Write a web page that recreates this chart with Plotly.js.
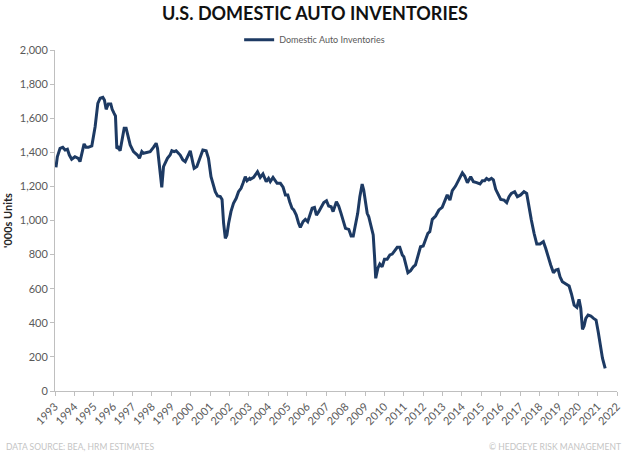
<!DOCTYPE html>
<html>
<head>
<meta charset="utf-8">
<script src="https://cdn.plot.ly/plotly-3.0.1.min.js"></script>
<style>html,body{margin:0;padding:0;background:#fff;}#chart{width:630px;height:457px;}</style>
</head>
<body>
<div id="chart"></div>
<script>
// Decimal year of each reading
var years = [
1993.05,1993.12,1993.26,1993.40,1993.52,1993.64,1993.74,1993.86,1994.03,1994.20,1994.29,1994.38,1994.50,1994.60,1994.72,1994.90,
1995.07,1995.21,1995.33,1995.47,1995.55,1995.64,1995.75,1995.88,1995.95,1996.05,1996.12,1996.19,1996.27,1996.36,1996.45,1996.57,
1996.67,1996.79,1996.88,1997.05,1997.25,1997.36,1997.48,1997.56,1997.74,1997.91,1998.08,1998.22,1998.29,1998.39,1998.51,1998.60,
1998.68,1998.80,1998.94,1999.03,1999.15,1999.25,1999.46,1999.60,1999.72,1999.84,1999.98,2000.12,2000.18,2000.32,2000.46,2000.63,
2000.80,2000.92,2001.05,2001.15,2001.27,2001.39,2001.53,2001.62,2001.70,2001.79,2001.87,2001.96,2002.08,2002.21,2002.35,2002.47,
2002.60,2002.70,2002.82,2002.91,2003.04,2003.08,2003.25,2003.45,2003.59,2003.73,2003.90,2004.02,2004.11,2004.25,2004.37,2004.46,
2004.63,2004.77,2004.89,2005.01,2005.11,2005.23,2005.32,2005.45,2005.57,2005.66,2005.80,2005.92,2006.04,2006.14,2006.27,2006.39,
2006.49,2006.61,2006.73,2006.87,2007.01,2007.12,2007.25,2007.35,2007.52,2007.64,2007.76,2007.90,2007.99,2008.16,2008.28,2008.39,
2008.50,2008.62,2008.73,2008.85,2008.93,2009.02,2009.11,2009.19,2009.28,2009.42,2009.49,2009.55,2009.66,2009.76,2009.88,2010.00,
2010.14,2010.28,2010.40,2010.52,2010.66,2010.79,2010.92,2011.00,2011.09,2011.21,2011.35,2011.49,2011.60,2011.72,2011.86,2012.00,
2012.12,2012.24,2012.34,2012.47,2012.64,2012.81,2012.98,2013.10,2013.24,2013.38,2013.50,2013.67,2013.84,2014.02,2014.14,2014.28,
2014.45,2014.59,2014.76,2014.93,2015.05,2015.17,2015.27,2015.39,2015.52,2015.62,2015.74,2015.86,2016.00,2016.17,2016.31,2016.43,
2016.55,2016.72,2016.86,2017.03,2017.20,2017.34,2017.46,2017.58,2017.72,2017.86,2018.03,2018.20,2018.32,2018.44,2018.58,2018.72,
2018.84,2018.96,2019.06,2019.18,2019.36,2019.53,2019.65,2019.79,2019.93,2020.04,2020.13,2020.22,2020.30,2020.39,2020.51,2020.65,
2020.79,2020.92,2021.03,2021.13,2021.25,2021.39
];
// Domestic auto inventories, '000s units
var inventories = [
1312,1374,1423,1429,1413,1418,1384,1359,1374,1365,1345,1384,1449,1429,1429,1437,
1550,1687,1717,1722,1707,1652,1683,1683,1652,1628,1613,1423,1429,1409,1462,1541,
1541,1472,1443,1404,1384,1365,1404,1394,1398,1404,1429,1453,1423,1316,1195,1316,
1335,1365,1384,1409,1404,1409,1384,1355,1345,1374,1409,1335,1306,1316,1365,1413,
1409,1365,1257,1222,1169,1144,1140,1124,984,896,915,984,1052,1101,1130,1169,
1189,1218,1257,1233,1247,1242,1253,1286,1253,1273,1228,1247,1228,1253,1233,1218,
1218,1195,1150,1150,1110,1072,1062,1032,984,960,993,1007,993,1032,1072,1077,
1032,1052,1081,1105,1116,1085,1081,1052,1110,1085,1042,984,954,948,909,909,
974,1042,1140,1214,1179,1101,1042,1022,979,915,788,661,720,745,729,772,
772,798,803,823,843,843,798,788,739,694,706,729,739,788,846,850,
886,925,934,1007,1026,1062,1077,1110,1150,1120,1175,1202,1241,1280,1261,1222,
1257,1228,1222,1214,1233,1233,1247,1238,1247,1238,1183,1159,1124,1120,1105,1140,
1159,1169,1140,1150,1169,1159,1072,1003,925,862,862,876,837,788,739,694,
710,714,670,641,628,616,569,504,491,538,485,362,381,426,446,440,
426,416,348,270,192,133
];
var tickYears = [];
for (var yr = 1993; yr <= 2022; yr++) tickYears.push(yr);
var tickLabels = tickYears.map(String);
var yTicks = [0,200,400,600,800,1000,1200,1400,1600,1800,2000];

var FONT = 'Lato, "Open Sans", sans-serif';
var trace = {
  x: years, y: inventories, type: 'scatter', mode: 'lines',
  name: 'Domestic Auto Inventories',
  line: {color: '#1d3a63', width: 3, shape: 'linear'}
};
var layout = {
  width: 630, height: 457,
  margin: {l: 55, r: 13, t: 50, b: 66},
  paper_bgcolor: '#ffffff', plot_bgcolor: '#ffffff',
  font: {family: FONT, color: '#595959', size: 11},
  title: {text: '<b>U.S. DOMESTIC AUTO INVENTORIES</b>', x: 0.5, xanchor: 'center', y: 0.97, yanchor: 'middle', yref: 'container',
          font: {family: FONT, size: 18, color: '#111111'}},
  showlegend: true,
  legend: {orientation: 'h', x: 0.462, xanchor: 'center', y: 1.03, yanchor: 'middle',
           font: {family: FONT, size: 9, color: '#595959'}, bgcolor: 'rgba(0,0,0,0)', itemwidth: 30},
  xaxis: {
    range: [1993, 2022], tickmode: 'array', tickvals: tickYears, ticktext: tickLabels,
    tickangle: -45, ticks: 'outside', ticklen: 4, tickcolor: '#bfbfbf',
    showline: true, linecolor: '#bfbfbf', linewidth: 1, showgrid: false, zeroline: false,
    tickfont: {family: FONT, size: 11, color: '#595959'}
  },
  yaxis: {
    range: [0, 2000], tickmode: 'array', tickvals: yTicks, tickformat: ',',
    ticks: 'outside', ticklen: 4, tickcolor: '#bfbfbf',
    showline: true, linecolor: '#bfbfbf', linewidth: 1, showgrid: false, zeroline: false,
    tickfont: {family: FONT, size: 11, color: '#595959'},
    title: {text: "<b>'000s Units</b>", font: {family: FONT, size: 11, color: '#262626'}, standoff: 4}
  },
  annotations: [
    {text: 'DATA SOURCE: BEA, HRM ESTIMATES', xref: 'paper', yref: 'paper', x: -0.09, y: -0.165,
     xanchor: 'left', yanchor: 'middle', showarrow: false, font: {family: FONT, size: 8.5, color: '#c4c4c4'}},
    {text: '© HEDGEYE RISK MANAGEMENT', xref: 'paper', yref: 'paper', x: 1.01, y: -0.165,
     xanchor: 'right', yanchor: 'middle', showarrow: false, font: {family: FONT, size: 8.5, color: '#c4c4c4'}}
  ]
};
Plotly.newPlot('chart', [trace], layout, {displayModeBar: false, staticPlot: true});
</script>
</body>
</html>
